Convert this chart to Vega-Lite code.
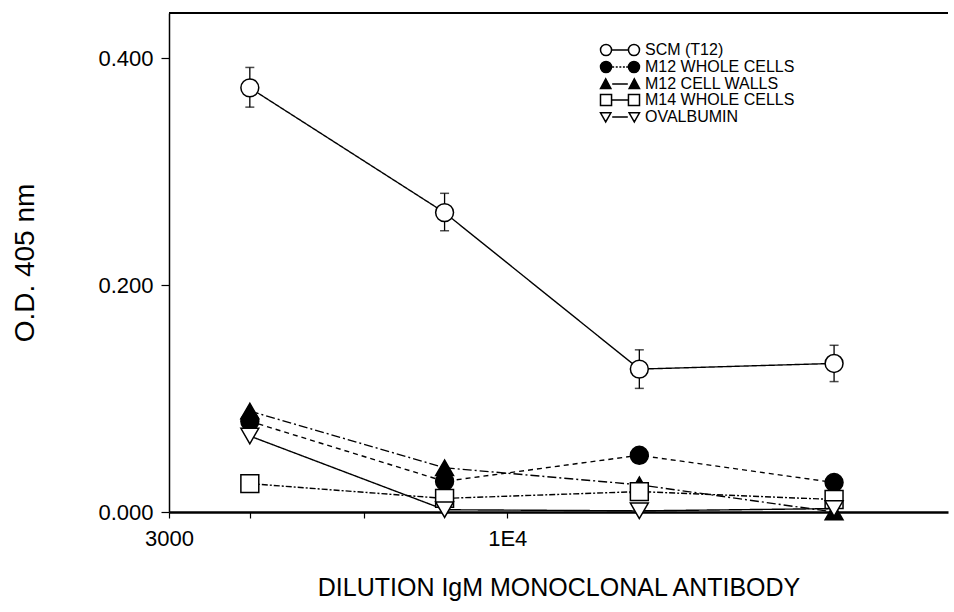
{
  "$schema": "https://vega.github.io/schema/vega-lite/v6.json",
  "autosize": "none",
  "width": 779,
  "height": 499,
  "padding": {"left": 169, "top": 13, "right": 6, "bottom": 100},
  "background": "white",
  "view": {"stroke": "black", "strokeWidth": 2, "strokeDash": [779, 3000]},
  "config": {
    "font": "Liberation Sans",
    "axis": {
      "domainColor": "black", "tickColor": "black", "labelColor": "black", "titleColor": "black",
      "grid": false, "labelFont": "Liberation Sans", "titleFont": "Liberation Sans", "titleFontWeight": "normal"
    }
  },
  "data": {
    "values": [
      {"series": "SCM (T12)", "dilution": 4000, "od": 0.374, "lo": 0.357, "hi": 0.392},
      {"series": "SCM (T12)", "dilution": 8000, "od": 0.264, "lo": 0.248, "hi": 0.281},
      {"series": "SCM (T12)", "dilution": 16000, "od": 0.126, "lo": 0.109, "hi": 0.143},
      {"series": "SCM (T12)", "dilution": 32000, "od": 0.131, "lo": 0.115, "hi": 0.147},
      {"series": "M12 WHOLE CELLS", "dilution": 4000, "od": 0.080},
      {"series": "M12 WHOLE CELLS", "dilution": 8000, "od": 0.027},
      {"series": "M12 WHOLE CELLS", "dilution": 16000, "od": 0.050},
      {"series": "M12 WHOLE CELLS", "dilution": 32000, "od": 0.026},
      {"series": "M12 CELL WALLS", "dilution": 4000, "od": 0.089},
      {"series": "M12 CELL WALLS", "dilution": 8000, "od": 0.039},
      {"series": "M12 CELL WALLS", "dilution": 16000, "od": 0.024},
      {"series": "M12 CELL WALLS", "dilution": 32000, "od": 0.000},
      {"series": "M14 WHOLE CELLS", "dilution": 4000, "od": 0.025},
      {"series": "M14 WHOLE CELLS", "dilution": 8000, "od": 0.012},
      {"series": "M14 WHOLE CELLS", "dilution": 16000, "od": 0.018},
      {"series": "M14 WHOLE CELLS", "dilution": 32000, "od": 0.011},
      {"series": "OVALBUMIN", "dilution": 4000, "od": 0.067},
      {"series": "OVALBUMIN", "dilution": 8000, "od": 0.002},
      {"series": "OVALBUMIN", "dilution": 16000, "od": 0.001},
      {"series": "OVALBUMIN", "dilution": 32000, "od": 0.003}
    ]
  },
  "layer": [
    {
      "mark": {"type": "line", "color": "black", "strokeWidth": 1.4},
      "encoding": {
        "x": {
          "field": "dilution", "type": "quantitative",
          "scale": {"type": "log", "domain": [3000, 48000], "nice": false},
          "axis": {
            "values": [3000, 4000, 6000, 10000],
            "labelExpr": "datum.value == 3000 ? '3000' : (datum.value == 10000 ? '1E4' : '')",
            "tickSize": 6, "tickWidth": 1.2, "labelPadding": 10, "labelFontSize": 22,
            "labelFlush": false, "labelOverlap": false,
            "titleFontSize": 25, "titlePadding": 26, "domainWidth": 2.5
          },
          "title": "DILUTION IgM MONOCLONAL ANTIBODY"
        },
        "y": {
          "field": "od", "type": "quantitative",
          "scale": {"domain": [0, 0.44], "nice": false},
          "axis": {
            "values": [0, 0.2, 0.4], "format": ".3f",
            "tickSize": 8, "tickWidth": 1.2, "labelPadding": 8, "labelFontSize": 22,
            "titleFontSize": 28, "titlePadding": 58, "domainWidth": 1.5
          },
          "title": "O.D. 405 nm"
        },
        "strokeDash": {
          "field": "series", "type": "nominal",
          "scale": {
            "domain": ["SCM (T12)", "M12 WHOLE CELLS", "M12 CELL WALLS", "M14 WHOLE CELLS", "OVALBUMIN"],
            "range": [[1, 0], [5, 4], [9, 3, 2, 3], [6, 2, 2, 2], [1, 0]]
          },
          "legend": null
        }
      }
    },
    {
      "transform": [{"filter": "datum.lo != null"}],
      "mark": {"type": "errorbar", "color": "black", "thickness": 1.3, "ticks": {"size": 9, "thickness": 1.5}},
      "encoding": {
        "x": {"field": "dilution", "type": "quantitative", "title": "DILUTION IgM MONOCLONAL ANTIBODY"},
        "y": {"field": "lo", "type": "quantitative", "title": "O.D. 405 nm"},
        "y2": {"field": "hi"}
      }
    },
    {
      "mark": {"type": "point", "filled": true, "stroke": "black", "strokeWidth": 1.5, "size": 320, "opacity": 1},
      "encoding": {
        "x": {"field": "dilution", "type": "quantitative", "title": "DILUTION IgM MONOCLONAL ANTIBODY"},
        "y": {"field": "od", "type": "quantitative", "title": "O.D. 405 nm"},
        "shape": {
          "field": "series", "type": "nominal",
          "scale": {
            "domain": ["SCM (T12)", "M12 WHOLE CELLS", "M12 CELL WALLS", "M14 WHOLE CELLS", "OVALBUMIN"],
            "range": ["circle", "circle", "triangle-up", "square", "triangle-down"]
          },
          "legend": null
        },
        "fill": {
          "field": "series", "type": "nominal",
          "scale": {
            "domain": ["SCM (T12)", "M12 WHOLE CELLS", "M12 CELL WALLS", "M14 WHOLE CELLS", "OVALBUMIN"],
            "range": ["white", "black", "black", "white", "white"]
          },
          "legend": null
        }
      }
    },
    {
      "transform": [{"filter": "false"}],
      "mark": {"type": "point", "filled": true, "stroke": "black", "strokeWidth": 1.3, "opacity": 1},
      "encoding": {
        "shape": {
          "field": "series", "type": "nominal",
          "scale": {
            "domain": ["SCM (T12)", "M12 WHOLE CELLS", "M12 CELL WALLS", "M14 WHOLE CELLS", "OVALBUMIN"],
            "range": [
              "M-3,0A0.85,0.85 0 1 1 -1.3,0A0.85,0.85 0 1 1 -3,0Z M-1.2,0L1.2,0 M1.3,0A0.85,0.85 0 1 1 3,0A0.85,0.85 0 1 1 1.3,0Z",
              "M-3,0A0.85,0.85 0 1 1 -1.3,0A0.85,0.85 0 1 1 -3,0Z M-1.2,0L-0.9,0M-0.65,0L-0.35,0M-0.1,0L0.2,0M0.45,0L0.75,0M0.95,0L1.2,0 M1.3,0A0.85,0.85 0 1 1 3,0A0.85,0.85 0 1 1 1.3,0Z",
              "M-3,0.7L-2.2,-0.8L-1.4,0.7Z M-1.2,0L1.2,0 M1.4,0.7L2.2,-0.8L3,0.7Z",
              "M-3,-0.85H-1.3V0.85H-3Z M-1.2,0L1.2,0 M1.3,-0.85H3V0.85H1.3Z",
              "M-3,-0.65L-1.4,-0.65L-2.2,0.75Z M-1.2,0L1.2,0 M1.4,-0.65L3,-0.65L2.2,0.75Z"
            ]
          },
          "legend": {
            "title": null, "orient": "none", "legendX": 443, "legendY": 29, "padding": 0,
            "symbolSize": 169, "labelFontSize": 16, "labelFont": "Liberation Sans", "labelColor": "black",
            "labelOffset": 17, "rowPadding": -1.5, "labelLimit": 400,
            "encode": {"symbols": {"update": {"stroke": {"value": "black"}, "strokeWidth": {"value": 1.3}, "opacity": {"value": 1}}}}
          }
        },
        "fill": {
          "field": "series", "type": "nominal",
          "scale": {
            "domain": ["SCM (T12)", "M12 WHOLE CELLS", "M12 CELL WALLS", "M14 WHOLE CELLS", "OVALBUMIN"],
            "range": ["white", "black", "black", "white", "white"]
          },
          "legend": {
            "title": null, "orient": "none", "legendX": 443, "legendY": 29, "padding": 0,
            "symbolSize": 169, "labelFontSize": 16, "labelFont": "Liberation Sans", "labelColor": "black",
            "labelOffset": 17, "rowPadding": -1.5, "labelLimit": 400,
            "encode": {"symbols": {"update": {"stroke": {"value": "black"}, "strokeWidth": {"value": 1.3}, "opacity": {"value": 1}}}}
          }
        }
      }
    }
  ],
  "resolve": {"scale": {"shape": "independent", "fill": "independent"}}
}
